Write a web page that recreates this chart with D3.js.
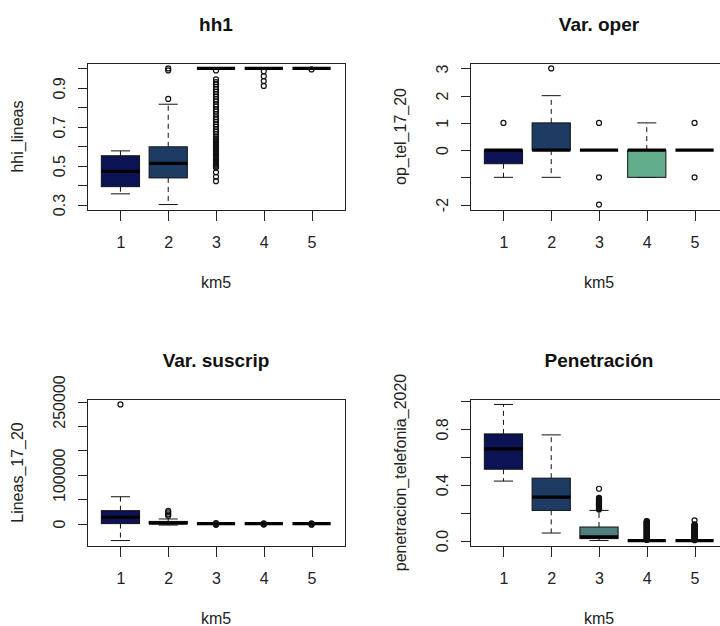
<!DOCTYPE html>
<html>
<head>
  <meta charset="utf-8">
  <title>km5 boxplots</title>
  <script src="https://cdn.jsdelivr.net/npm/d3@7"></script>
  <style>
    body { margin: 0; background: #fff; }
    svg { display: block; }
  </style>
</head>
<body>
  <main id="container"></main>

  <script>
    const clusters = [1, 2, 3, 4, 5];
    const boxColors = ["#0b1354", "#1d3b63", "#4f7f80", "#63ae8a", "#b3dc9c"];

    // stats per cluster: [lower whisker, q1, median, q3, upper whisker]
    const hhiStats = [
      [0.355, 0.392, 0.471, 0.551, 0.576],
      [0.30, 0.437, 0.512, 0.597, 0.816],
      [1, 1, 1, 1, 1],
      [1, 1, 1, 1, 1],
      [1, 1, 1, 1, 1]
    ];
    const hhiOutliers = [
      [],
      [0.843, 0.99, 1.0],
      [0.42, 0.443, 0.466, 0.49, 0.495, 0.5, 0.505, 0.51, 0.515, 0.52, 0.526, 0.532, 0.54, 0.547, 0.552,
       0.558, 0.563, 0.57, 0.575, 0.582, 0.59, 0.595, 0.60, 0.606,
       0.612, 0.62, 0.625, 0.632, 0.64, 0.65, 0.662, 0.675, 0.688, 0.70, 0.712, 0.725, 0.738, 0.75, 0.765, 0.778,
       0.79, 0.803, 0.815, 0.83, 0.842, 0.855, 0.868, 0.88, 0.893, 0.905, 0.918, 0.93, 0.944, 0.99],
      [0.91, 0.935, 0.96, 0.985],
      [0.995]
    ];
    const hhiTicks = [0.3, 0.4, 0.5, 0.6, 0.7, 0.8, 0.9, 1.0];
    const hhiLabels = [0.3, 0.5, 0.7, 0.9];

    const operStats = [
      [-1, -0.5, 0, 0, 0],
      [-1, 0, 0, 1, 2],
      [0, 0, 0, 0, 0],
      [-1, -1, 0, 0, 1],
      [0, 0, 0, 0, 0]
    ];
    const operOutliers = [[1], [3], [1, -1, -2], [], [1, -1]];
    const operTicks = [-2, -1, 0, 1, 2, 3];
    const operLabels = [-2, 0, 1, 2, 3];

    const lineasStats = [
      [-34700, 0, 13000, 26500, 55000],
      [-3000, 0, 1000, 4500, 9500],
      [0, 0, 0, 0, 0],
      [0, 0, 0, 0, 0],
      [0, 0, 0, 0, 0]
    ];
    const lineasOutliers = [
      [244000],
      [16000, 19000, 23000, 26000],
      [-2500, -1500, -800, 800],
      [-2000, -1000, 600],
      [-2200, -1200, 700]
    ];
    const lineasTicks = [0, 50000, 100000, 150000, 200000, 250000];
    const lineasLabels = [0, 100000, 250000];

    const penetStats = [
      [0.426, 0.511, 0.657, 0.764, 0.975],
      [0.054, 0.216, 0.311, 0.447, 0.757],
      [0.0, 0.014, 0.026, 0.097, 0.216],
      [0, 0, 0, 0, 0],
      [0, 0, 0, 0, 0]
    ];
    const penetOutliers = [
      [],
      [],
      [0.222, 0.226, 0.23, 0.234, 0.237, 0.241, 0.245, 0.249, 0.252, 0.256, 0.26, 0.264, 0.268,
       0.272, 0.275, 0.279, 0.283, 0.287, 0.29, 0.294, 0.298, 0.302, 0.306, 0.371],
      [0.004, 0.008, 0.011, 0.015, 0.018, 0.022, 0.026, 0.03, 0.033, 0.037, 0.041, 0.045, 0.049,
       0.052, 0.056, 0.06, 0.064, 0.068, 0.072, 0.076, 0.08, 0.084, 0.088, 0.091, 0.095, 0.099,
       0.103, 0.107, 0.11, 0.114, 0.118, 0.122, 0.126, 0.13, 0.133, 0.137, 0.14],
      [0.003, 0.007, 0.01, 0.014, 0.017, 0.021, 0.025, 0.029, 0.032, 0.036, 0.04, 0.044, 0.048,
       0.051, 0.055, 0.059, 0.063, 0.067, 0.071, 0.075, 0.079, 0.083, 0.087, 0.09, 0.094, 0.098,
       0.101, 0.105, 0.109, 0.112, 0.116, 0.145]
    ];
    const penetTicks = [0, 0.2, 0.4, 0.6, 0.8, 1.0];
    const penetLabels = [0, 0.4, 0.8];

    const width = 720;
    const height = 626;
    const font = "'Liberation Sans', Arial, sans-serif";

    const svg = d3.select("#container")
      .append("svg")
      .attr("width", width)
      .attr("height", height)
      .style("font-family", font)

    svg.append("rect").attr("width", width).attr("height", height).attr("fill", "#fff")

    function drawPanel(p) {
      const left = 87 + p.col * 383;
      const top = 63 + p.row * 336;
      const w = 258, h = 147;

      const all = p.stats.flat().concat(p.outliers.flat());
      const [lo, hi] = d3.extent(all);
      const pad = (hi - lo) * 0.04;

      const x = d3.scaleLinear().domain([0.3, 5.7]).range([left, left + w]);
      const y = d3.scaleLinear().domain([lo - pad, hi + pad]).range([top + h, top]);

      const g = svg.append("g");
      const bw = x(0.4) - x(0);   // box half width
      const sw = bw / 2;          // staple half width

      // y axis
      g.append("g")
        .attr("transform", `translate(${left + 0.5},0)`)
        .call(d3.axisLeft(y).tickValues(p.ticks).tickSize(10)
          .tickFormat(d => p.labels.includes(d) ? p.fmt(d) : ""))
        .call(a => a.select(".domain").remove())
        .call(a => a.selectAll("line").attr("stroke", "#222").attr("shape-rendering", "crispEdges"))
        .call(a => a.selectAll("text")
          .attr("x", 0).attr("y", -23).attr("dy", 0)
          .attr("transform", "rotate(-90)")
          .attr("text-anchor", "middle")
          .attr("fill", "#222")
          .attr("font-size", 16)
          .attr("font-family", font))

      // x axis
      g.append("g")
        .attr("transform", `translate(0,${top + h + 0.5})`)
        .call(d3.axisBottom(x).tickValues(clusters).tickSize(10).tickFormat(d3.format("d")))
        .call(a => a.select(".domain").remove())
        .call(a => a.selectAll("line").attr("stroke", "#222").attr("shape-rendering", "crispEdges"))
        .call(a => a.selectAll("text")
          .attr("y", 37).attr("dy", 0)
          .attr("fill", "#222")
          .attr("font-size", 16)
          .attr("font-family", font))

      const boxes = g.selectAll("g.box")
        .data(p.stats.map((s, i) => ({ s, i, k: clusters[i] })))
        .join("g")
        .attr("class", "box")

      // whiskers
      boxes.append("line")
        .attr("x1", d => x(d.k)).attr("x2", d => x(d.k))
        .attr("y1", d => y(d.s[3])).attr("y2", d => y(d.s[4]))
        .attr("stroke", "#111").attr("stroke-dasharray", "5,4")
      boxes.append("line")
        .attr("x1", d => x(d.k)).attr("x2", d => x(d.k))
        .attr("y1", d => y(d.s[1])).attr("y2", d => y(d.s[0]))
        .attr("stroke", "#111").attr("stroke-dasharray", "5,4")
      // staples
      boxes.selectAll("line.staple")
        .data(d => [d.s[0], d.s[4]].map(val => ({ k: d.k, val })))
        .join("line")
        .attr("class", "staple")
        .attr("x1", d => x(d.k) - sw).attr("x2", d => x(d.k) + sw)
        .attr("y1", d => y(d.val)).attr("y2", d => y(d.val))
        .attr("stroke", "#111")
      // box
      boxes.append("rect")
        .attr("x", d => x(d.k) - bw)
        .attr("width", 2 * bw)
        .attr("y", d => y(d.s[3]))
        .attr("height", d => y(d.s[1]) - y(d.s[3]))
        .attr("fill", d => boxColors[d.i])
        .attr("stroke", "#111")
      // median
      boxes.append("line")
        .attr("x1", d => x(d.k) - bw).attr("x2", d => x(d.k) + bw)
        .attr("y1", d => y(d.s[2])).attr("y2", d => y(d.s[2]))
        .attr("stroke", "#000").attr("stroke-width", 3.2)

      // outliers
      g.selectAll("circle")
        .data(p.outliers.flatMap((arr, i) => arr.map(v => ({ k: clusters[i], v }))))
        .join("circle")
        .attr("cx", d => x(d.k))
        .attr("cy", d => y(d.v))
        .attr("r", 2.5)
        .attr("fill", "none")
        .attr("stroke", "#111")
        .attr("stroke-width", 1.2)

      // frame
      g.append("rect")
        .attr("x", left + 0.5).attr("y", top + 0.5)
        .attr("width", w).attr("height", h)
        .attr("fill", "none").attr("stroke", "#222")

      // labels
      g.append("text")
        .attr("x", left + w / 2).attr("y", top - 32)
        .attr("text-anchor", "middle")
        .attr("font-size", 19).attr("font-weight", "bold")
        .attr("fill", "#111")
        .text(p.title)
      g.append("text")
        .attr("x", left + w / 2).attr("y", top + h + 78)
        .attr("text-anchor", "middle")
        .attr("font-size", 16).attr("fill", "#222")
        .text("km5")
      g.append("text")
        .attr("transform", `translate(${left - 64},${top + h / 2}) rotate(-90)`)
        .attr("text-anchor", "middle")
        .attr("font-size", 16).attr("fill", "#222")
        .text(p.ylab)
    }

    drawPanel({ col: 0, row: 0, title: "hh1", ylab: "hhi_lineas",
      stats: hhiStats, outliers: hhiOutliers, ticks: hhiTicks, labels: hhiLabels, fmt: d3.format(".1f") })
    drawPanel({ col: 1, row: 0, title: "Var. oper", ylab: "op_tel_17_20",
      stats: operStats, outliers: operOutliers, ticks: operTicks, labels: operLabels, fmt: d => String(d) })
    drawPanel({ col: 0, row: 1, title: "Var. suscrip", ylab: "Lineas_17_20",
      stats: lineasStats, outliers: lineasOutliers, ticks: lineasTicks, labels: lineasLabels, fmt: d => String(d) })
    drawPanel({ col: 1, row: 1, title: "Penetración", ylab: "penetracion_telefonia_2020",
      stats: penetStats, outliers: penetOutliers, ticks: penetTicks, labels: penetLabels, fmt: d3.format(".1f") })
  </script>
</body>
</html>
